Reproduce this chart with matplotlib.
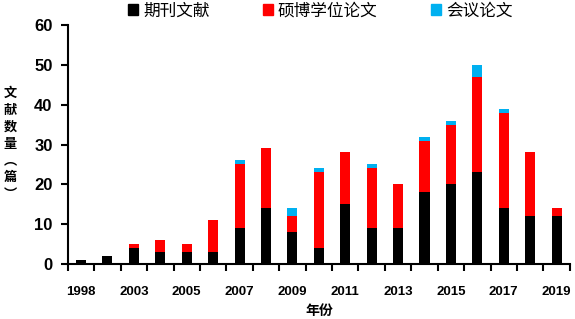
import matplotlib

matplotlib.use("Agg")
import matplotlib.pyplot as plt  # noqa: E402
import numpy as np  # noqa: E402
from matplotlib.patches import Patch  # noqa: E402

plt.rcParams["font.family"] = ["Liberation Sans", "Noto Sans CJK SC", "DejaVu Sans"]

# data (second category is unlabelled on the axis)
years = ["1998", "2000", "2003", "2004", "2005", "2006", "2007", "2008", "2009", "2010",
         "2011", "2012", "2013", "2014", "2015", "2016", "2017", "2018", "2019"]
journal = [1, 2, 4, 3, 3, 3, 9, 14, 8, 4, 15, 9, 9, 18, 20, 23, 14, 12, 12]
thesis = [0, 0, 1, 3, 2, 8, 16, 15, 4, 19, 13, 15, 11, 13, 15, 24, 24, 16, 2]
conference = [0, 0, 0, 0, 0, 0, 1, 0, 2, 1, 0, 1, 0, 1, 1, 3, 1, 0, 0]
series_names = ["期刊文献", "硕博学位论文", "会议论文"]
colors = ["#000000", "#ff0000", "#00b0f0"]

CJK = ["Noto Sans CJK SC", "DejaVu Sans"]

fig = plt.figure(figsize=(5.75, 3.19), dpi=100)
ax = fig.add_axes([0.118, 0.172, 0.873, 0.750])

x = np.arange(len(years))
bottom = np.zeros(len(years))
for vals, c in zip([journal, thesis, conference], colors):
    ax.bar(x, vals, width=0.38, bottom=bottom, color=c, linewidth=0)
    bottom += np.array(vals)

ax.set_xlim(-0.5, len(years) - 0.5)
ax.set_ylim(0, 60)
ax.set_yticks(np.arange(0, 61, 10))
ax.tick_params(axis="y", direction="out", length=5, width=1.5, pad=6, labelsize=12)
for lab in ax.get_yticklabels():
    lab.set_fontweight("bold")

# tick marks at category boundaries, labels every other category
ax.set_xticks(np.arange(-0.5, len(years), 1.0))
ax.set_xticklabels([])
ax.tick_params(axis="x", which="major", direction="out", length=5, width=1.5)
ax.set_xticks(x[::2], minor=True)
ax.set_xticklabels(years[::2], minor=True, fontsize=9.5, fontweight="bold")
ax.tick_params(axis="x", which="minor", length=0, pad=16)

for s in ["top", "right"]:
    ax.spines[s].set_visible(False)
for s in ["left", "bottom"]:
    ax.spines[s].set_linewidth(1.5)

ax.set_xlabel("年份", family=CJK, fontsize=10, fontweight="bold", labelpad=4)
fig.text(0.018, 0.55, "文\n献\n数\n量\n︵\n篇\n︶", family=CJK, fontsize=9.5,
         fontweight="bold", ha="center", va="center", linespacing=1.25)

handles = [Patch(color=c) for c in colors]
fig.legend(handles, series_names, loc="center", bbox_to_anchor=(0.557, 0.965),
           ncol=3, frameon=False, prop={"family": CJK, "size": 12},
           handlelength=0.6, handleheight=0.6, handletextpad=0.3,
           columnspacing=3.2)

fig.savefig("out.png", dpi=100)
